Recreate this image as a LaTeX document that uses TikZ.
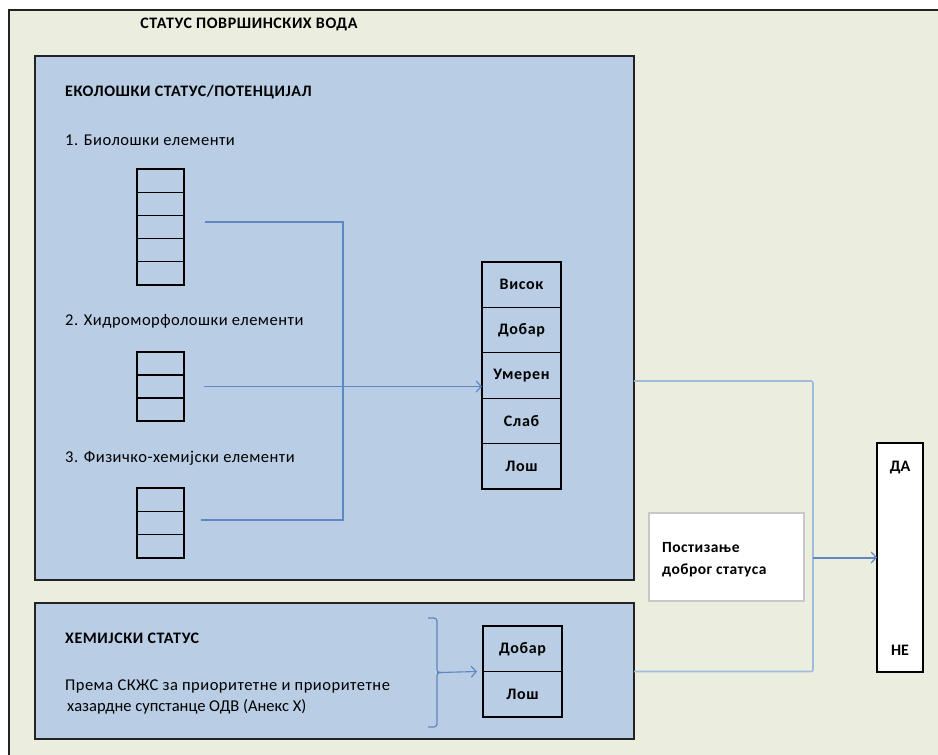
\documentclass[tikz,border=0pt]{standalone}
\usepackage{fontspec}
\setmainfont{Carlito}
\usetikzlibrary{arrows.meta,decorations.pathreplacing,positioning}
\definecolor{bgc}{RGB}{235,238,222}
\definecolor{bluef}{RGB}{185,205,229}
\definecolor{linec}{RGB}{95,135,195}
\definecolor{linel}{RGB}{160,188,220}
\definecolor{framec}{RGB}{35,35,35}
\definecolor{greyb}{RGB}{200,200,200}
\tikzset{
  panel/.style={draw=framec, fill=bluef, line width=1.6pt, inner sep=0pt, outer sep=0pt, anchor=north west},
  stackbox/.style={draw=black, line width=1.3pt, inner sep=0pt, outer sep=0pt, minimum width=47pt, anchor=north west},
  cellline/.style={draw=black, line width=1.3pt},
  cell/.style={draw=black, line width=1.3pt, inner sep=0pt, outer sep=0pt, minimum width=79pt, minimum height=45.4pt, font=\fontsize{16}{18}\selectfont\bfseries\addfontfeature{LetterSpace=4}},
  lbl/.style={anchor=west, inner sep=0pt, font=\fontsize{16.5}{19}\selectfont\addfontfeature{LetterSpace=3}},
  ttl/.style={anchor=west, inner sep=0pt, font=\fontsize{16}{19}\selectfont\bfseries\addfontfeature{LetterSpace=3.5}},
  conn/.style={draw=linec, line width=1.1pt},
  connl/.style={draw=linel, line width=1.6pt, rounded corners=2pt},
  tip/.style={-{Straight Barb[length=5pt,width=11pt,line width=1.2pt]}},
}
\begin{document}
\begin{tikzpicture}[x=1pt,y=-1pt]
\useasboundingbox (0,0) rectangle (938,755);
\clip (0,0) rectangle (938,755);
\fill[white] (0,0) rectangle (938,755);
\draw[fill=bgc, draw=framec, line width=2pt] (9,10) rectangle (970,790);

\node[ttl, anchor=center] (title) at (249,24) {СТАТУС ПОВРШИНСКИХ ВОДА};

% ecological panel
\node[panel, minimum width=599pt, minimum height=524pt] (eco) at (35,56) {};
\node[ttl] (ecot) at (65,92) {ЕКОЛОШКИ СТАТУС/ПОТЕНЦИЈАЛ};
\node[lbl] (l1) at (65,140) {1. Биолошки елементи};
\node[lbl] (l2) at (65,321) {2. Хидроморфолошки елементи};
\node[lbl] (l3) at (65,458) {3. Физичко-хемијски елементи};

\node[stackbox, minimum height=116pt] (s1) at (137,169) {};
\foreach \i in {1,...,4}
  \draw[cellline] ([yshift=-\i*23.2pt]s1.north west) -- ([yshift=-\i*23.2pt]s1.north east);
\node[stackbox, minimum height=69pt] (s2) at (137,352) {};
\foreach \i in {1,2}
  \draw[cellline] ([yshift=-\i*23pt]s2.north west) -- ([yshift=-\i*23pt]s2.north east);
\node[stackbox, minimum height=70pt] (s3) at (137,488) {};
\foreach \i in {1,2}
  \draw[cellline] ([yshift=-\i*23.3pt]s3.north west) -- ([yshift=-\i*23.3pt]s3.north east);

% status column
\node[cell, anchor=north west] (c1) at (482,262) {Висок};
\node[cell, below=0pt of c1] (c2) {Добар};
\node[cell, below=0pt of c2] (c3) {Умерен};
\node[cell, below=0pt of c3] (c4) {Слаб};
\node[cell, below=0pt of c4] (c5) {Лош};

% connectors inside ecological panel
\coordinate (a1) at ([xshift=21pt,yshift=5pt]s1.east);
\coordinate (a2) at ([xshift=20pt]s2.east);
\coordinate (a3) at ([xshift=17pt,yshift=3pt]s3.east);
\coordinate (jn) at (343,222);
\draw[conn] (a1) -- (jn) |- (a3);
\draw[conn, tip] (a2) -- (a2 -| c3.west);

% chemical panel
\node[panel, minimum width=599pt, minimum height=136pt] (chem) at (35,603) {};
\node[ttl] (chemt) at (65,638) {ХЕМИЈСКИ СТАТУС};
\node[lbl] (ct1) at (65,686) {Према СКЖС за приоритетне и приоритетне};
\node[lbl, font=\fontsize{16.5}{19}\selectfont] (ct2) at (67,707) {хазардне супстанце ОДВ (Анекс X)};

\node[cell, anchor=north west, minimum height=45.5pt] (d1) at (483,626) {Добар};
\node[cell, below=0pt of d1, minimum height=45.5pt] (d2) {Лош};

\coordinate (bt) at (428,618);
\coordinate (bb) at (428,727);
\draw[conn, line width=1.2pt, rounded corners=3pt] (bt) -- (437,618) -- (437,672.5) -- (440,672.5) -- (437,672.5) -- (437,727) -- (bb);
\coordinate (btip) at (440,672.5);
\draw[conn, line width=1.1pt, tip] (btip) -- ([xshift=-6pt]d1.south west);

% result
\node[draw=black, fill=white, line width=1.6pt, inner sep=0pt, outer sep=0pt, minimum width=46pt, minimum height=229pt, anchor=north west] (yn) at (877,443) {};
\node[font=\fontsize{16}{18}\selectfont\bfseries] (da) at (900,468) {ДА};
\node[font=\fontsize{16}{18}\selectfont\bfseries] (ne) at (900,650) {НЕ};

\node[draw=greyb, fill=white, line width=1.5pt, inner sep=0pt, outer sep=0pt, minimum width=155pt, minimum height=88pt, anchor=north west] (good) at (649,513) {};
\node[lbl, align=left, font=\fontsize{15.5}{22}\selectfont\bfseries\addfontfeature{LetterSpace=3}] (goodt) at (662,560) {Постизање\\доброг статуса};

\coordinate (rj) at (813,557.5);
\draw[connl] (eco.east |- 0,381) -| (rj) |- (chem.east |- d1.south);
\draw[draw=linec, line width=2pt, tip] (rj) -- (yn.west);
\end{tikzpicture}
\end{document}
